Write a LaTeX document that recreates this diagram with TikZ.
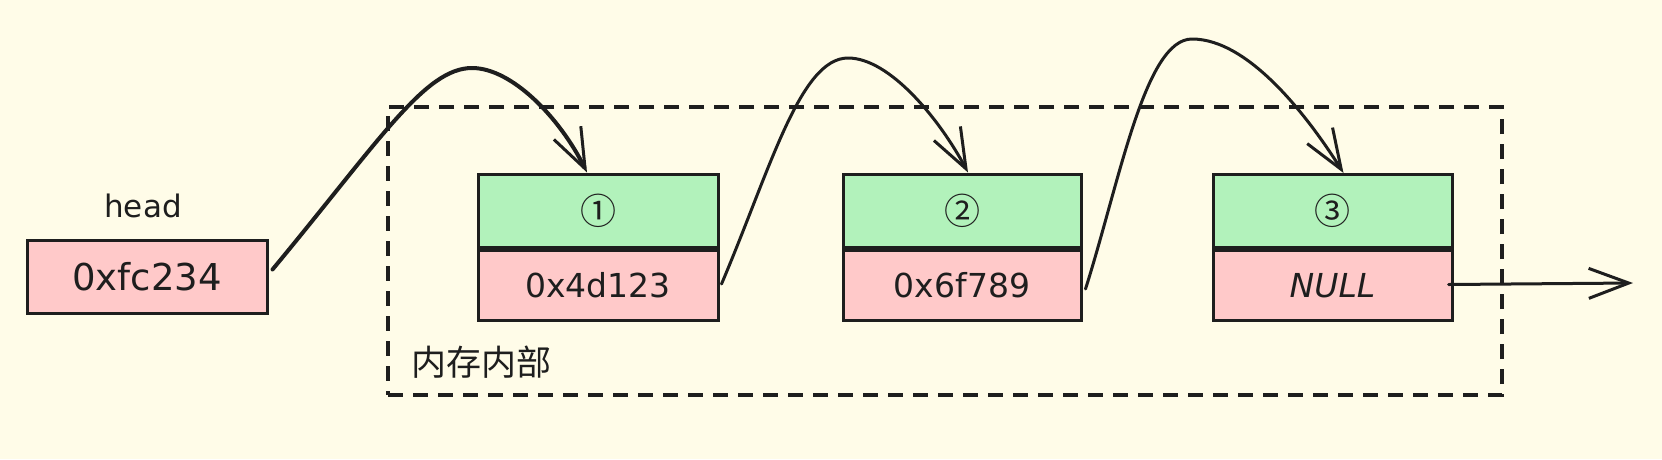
\documentclass[tikz,border=0pt]{standalone}
\usepackage{fontspec}
\setmainfont{DejaVu Sans}
\newfontfamily\cjk{Noto Sans CJK SC}
\usetikzlibrary{arrows.meta,calc}
\definecolor{bg}{HTML}{FFFCE8}
\definecolor{ink}{HTML}{1E1E1E}
\definecolor{gfill}{HTML}{B2F2BB}
\definecolor{pfill}{HTML}{FFC9C9}
\tikzset{
  cell/.style={draw=ink, line width=3pt, inner sep=0pt, minimum width=240pt, text=ink},
  topcell/.style={cell, fill=gfill, minimum height=73pt, font=\cjk\fontsize{36}{40}\selectfont},
  botcell/.style={cell, fill=pfill, minimum height=70pt, font=\fontsize{33}{36}\selectfont},
  link/.style={draw=ink, line width=3pt, line cap=round, -{Straight Barb[length=40pt,width=30pt,line width=3pt]}},
  memframe/.style={draw=ink, line width=3.5pt, dash pattern=on 15pt off 10pt, inner sep=0pt, minimum width=1114pt, minimum height=288pt},
}
\begin{document}
\begin{tikzpicture}[x=1pt,y=-1pt]
\fill[bg] (0,0) rectangle (1662,459);
\useasboundingbox (0,0) rectangle (1662,459);

\node[memframe] (mem) at (945,251) {};
\node[text=ink, font=\cjk\fontsize{35}{38}\selectfont] (memlabel) at (481,362) {内存内部};

\node[text=ink, font=\fontsize{31}{34}\selectfont] (headlabel) at (143,206) {head};
\node[botcell, minimum height=73pt, font=\fontsize{37}{40}\selectfont] (head) at (147,276.5) {0xfc234};

\node[topcell] (n1t) at (598,210.5) {①};
\node[botcell, anchor=north] (n1b) at (n1t.south) {0x4d123};

\node[topcell, minimum width=238pt] (n2t) at (962,210.5) {②};
\node[botcell, minimum width=238pt, anchor=north] (n2b) at (n2t.south) {0x6f789};

\node[topcell, minimum width=239pt] (n3t) at (1332.5,211) {③};
\node[botcell, minimum width=239pt, anchor=north, font=\itshape\fontsize{33}{36}\selectfont] (n3b) at (n3t.south) {NULL};

\coordinate (nullend) at (1633,283);

\draw[link, line width=4pt] ([xshift=4pt,yshift=7pt]head.east) .. controls (380,140) and (425,68) .. (472,68) .. controls (512,68) and (560,118) .. ([xshift=-11pt]n1t.north);
\draw[link] ([xshift=2pt,yshift=1pt]n1b.east) .. controls (770,170) and (800,58) .. (848,58) .. controls (890,58) and (940,120) .. ([xshift=6pt]n2t.north);
\draw[link] ([xshift=3pt,yshift=-4pt]n2b.east) .. controls (1120,180) and (1145,39) .. (1192,39) .. controls (1250,39) and (1310,120) .. ([xshift=11pt]n3t.north);
\draw[link] ([xshift=-5pt,yshift=1pt]n3b.east) -- (nullend);
\end{tikzpicture}
\end{document}
